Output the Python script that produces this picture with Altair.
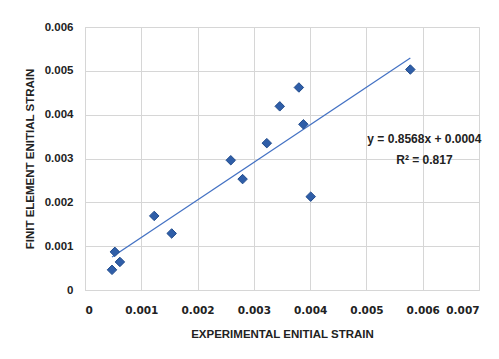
import altair as alt
import pandas as pd

exp_strain = [0.00048, 0.00053, 0.00062, 0.00123, 0.00154, 0.00259, 0.00280,
              0.00323, 0.00346, 0.00380, 0.00388, 0.00401, 0.00578]
fe_strain = [0.00046, 0.00087, 0.00064, 0.00169, 0.00129, 0.00296, 0.00253,
             0.00335, 0.00419, 0.00462, 0.00378, 0.00213, 0.00503]
eq_lines = ["y = 0.8568x + 0.0004", "R² = 0.817"]
eq_x = [0.00603, 0.00603]
eq_y = [0.00344, 0.00296]
x_ticks = [0, 0.001, 0.002, 0.003, 0.004, 0.005, 0.006, 0.007]
y_ticks = [0, 0.001, 0.002, 0.003, 0.004, 0.005, 0.006]

df = pd.DataFrame({"x": exp_strain, "y": fe_strain})
eq_df = pd.DataFrame({"t": eq_lines, "x": eq_x, "y": eq_y})

xs = alt.Scale(domain=[0, 0.007], nice=False)
ys = alt.Scale(domain=[0, 0.006], nice=False)

x_axis = alt.Axis(values=x_ticks, labelExpr="datum.value == 0 ? '0' : format(datum.value, '.3f')",
                  title="EXPERIMENTAL ENITIAL STRAIN", grid=True, gridColor="#d6d6d6",
                  domainColor="#d6d6d6", ticks=False, labelPadding=15,
                  labelFont="DejaVu Sans", labelFontSize=10.5, labelFontWeight="bold",
                  labelColor="#222222", titleFont="Liberation Sans", titleFontSize=11.5,
                  titleFontWeight="bold", titleColor="#222222", titlePadding=13)
y_axis = alt.Axis(values=y_ticks, labelExpr="datum.value == 0 ? '0' : format(datum.value, '.3f')",
                  title="FINIT ELEMENT ENITIAL STRAIN", grid=True, gridColor="#d6d6d6",
                  domainColor="#d6d6d6", ticks=False, labelPadding=12,
                  labelFont="Liberation Sans", labelFontSize=11.5, labelFontWeight="bold",
                  labelColor="#222222", titleFont="Liberation Sans", titleFontSize=11.5,
                  titleFontWeight="bold", titleColor="#222222", titlePadding=9)

points = alt.Chart(df).mark_point(shape="diamond", filled=True, size=90, color="#2F5EA8",
                                  stroke="#1F4A8C", strokeWidth=1, opacity=1).encode(
    x=alt.X("x:Q", scale=xs, axis=x_axis),
    y=alt.Y("y:Q", scale=ys, axis=y_axis),
)

trend = alt.Chart(df).mark_line(color="#4472C4", strokeWidth=1.3).transform_regression(
    "x", "y"
).encode(x=alt.X("x:Q", scale=xs), y=alt.Y("y:Q", scale=ys))

eq = alt.Chart(eq_df).mark_text(font="Liberation Sans", fontSize=12, fontWeight="bold",
                                color="#222222", align="center").encode(
    x=alt.X("x:Q", scale=xs), y=alt.Y("y:Q", scale=ys), text="t:N")

chart = alt.layer(trend, points, eq).properties(
    width=394, height=263,
    autosize=alt.AutoSizeParams(type="none"),
    padding={"left": 77, "top": 19, "right": 12, "bottom": 53},
).configure_view(stroke="#d6d6d6").configure(background="white")

chart.save("out.html", embed_options={"renderer": "svg", "actions": False})
